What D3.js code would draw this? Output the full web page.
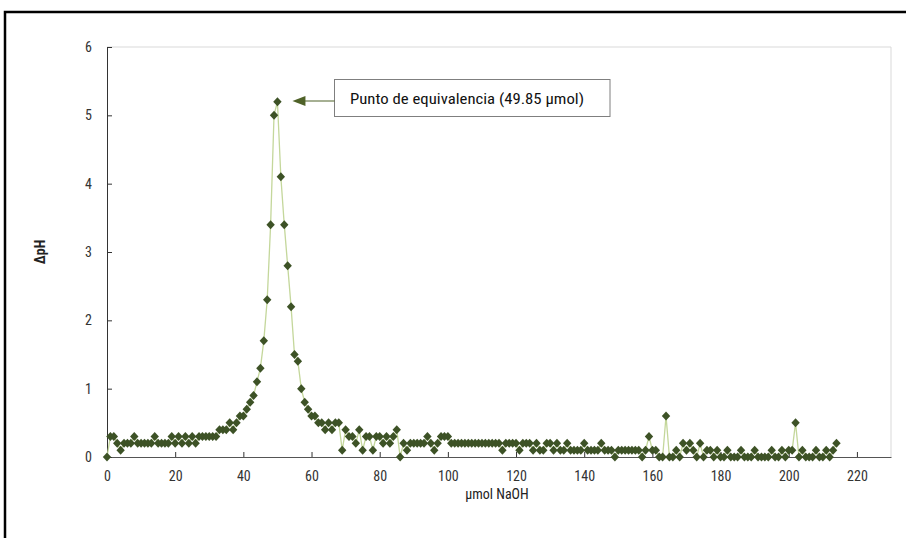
<!DOCTYPE html>
<html>
<head>
<meta charset="utf-8">
<script src="https://cdn.jsdelivr.net/npm/d3@7/dist/d3.min.js"></script>
<style>
  html, body { margin: 0; padding: 0; background: #fff; }
  svg { display: block; }
</style>
</head>
<body>
<svg id="chart" width="906" height="538"></svg>
<script>
// µmol NaOH added (x)
const umol = [
  0,1,2,3,4,5,6,7,8,9,10,11,12,13,14,15,16,17,18,19,
  20,21,22,23,24,25,26,27,28,29,30,31,32,33,34,35,36,37,38,39,
  40,41,42,43,44,45,46,47,48,49,50,51,52,53,54,55,56,57,58,59,
  60,61,62,63,64,65,66,67,68,69,70,71,72,73,74,75,76,77,78,79,
  80,81,82,83,84,85,86,87,88,89,90,91,92,93,94,95,96,97,98,99,
  100,101,102,103,104,105,106,107,108,109,110,111,112,113,114,115,116,117,118,119,
  120,121,122,123,124,125,126,127,128,129,130,131,132,133,134,135,136,137,138,139,
  140,141,142,143,144,145,146,147,148,149,150,151,152,153,154,155,156,157,158,159,
  160,161,162,163,164,165,166,167,168,169,170,171,172,173,174,175,176,177,178,179,
  180,181,182,183,184,185,186,187,188,189,190,191,192,193,194,195,196,197,198,199,
  200,201,202,203,204,205,206,207,208,209,210,211,212,213,214
];
// ΔpH values (y)
const deltaPH = [
  0.0,0.3,0.3,0.2,0.1,0.2,0.2,0.2,0.3,0.2,0.2,0.2,0.2,0.2,0.3,0.2,0.2,0.2,0.2,0.3,
  0.2,0.3,0.2,0.3,0.2,0.3,0.2,0.3,0.3,0.3,0.3,0.3,0.3,0.4,0.4,0.4,0.5,0.4,0.5,0.6,
  0.6,0.7,0.8,0.9,1.1,1.3,1.7,2.3,3.4,5.0,5.2,4.1,3.4,2.8,2.2,1.5,1.4,1.0,0.8,0.7,
  0.6,0.6,0.5,0.5,0.4,0.5,0.4,0.5,0.5,0.1,0.4,0.3,0.3,0.2,0.4,0.1,0.3,0.3,0.1,0.3,
  0.3,0.2,0.3,0.2,0.3,0.4,0.0,0.2,0.1,0.2,0.2,0.2,0.2,0.2,0.3,0.2,0.1,0.2,0.3,0.3,
  0.3,0.2,0.2,0.2,0.2,0.2,0.2,0.2,0.2,0.2,0.2,0.2,0.2,0.2,0.2,0.2,0.1,0.2,0.2,0.2,
  0.2,0.1,0.2,0.2,0.2,0.1,0.2,0.1,0.1,0.2,0.2,0.1,0.2,0.1,0.1,0.2,0.1,0.1,0.1,0.1,
  0.2,0.1,0.1,0.1,0.1,0.2,0.1,0.1,0.1,0.0,0.1,0.1,0.1,0.1,0.1,0.1,0.1,0.0,0.1,0.3,
  0.1,0.1,0.0,0.0,0.6,0.0,0.0,0.1,0.0,0.2,0.1,0.2,0.1,0.0,0.2,0.0,0.1,0.1,0.0,0.1,
  0.0,0.0,0.1,0.0,0.0,0.0,0.1,0.0,0.0,0.0,0.1,0.0,0.0,0.0,0.0,0.1,0.0,0.0,0.1,0.0,
  0.1,0.1,0.5,0.0,0.1,0.0,0.0,0.0,0.1,0.0,0.0,0.1,0.0,0.1,0.2
];
const xTicks = [0,20,40,60,80,100,120,140,160,180,200,220];
const yTicks = [0,1,2,3,4,5,6];
const xTitle = "µmol NaOH";
const yTitle = "ΔpH";
const annotationText = "Punto de equivalencia (49.85 µmol)";
const peakX = 50, peakY = 5.2;

const data = umol.map((v, i) => ({x: v, y: deltaPH[i]}));

const svg = d3.select("#chart");
const pLeft = 107, pRight = 891, pTop = 47, pBottom = 457;

const x = d3.scaleLinear().domain([0, 230]).range([pLeft, pRight]);
const y = d3.scaleLinear().domain([0, 6]).range([pBottom, pTop]);

// outer frame
svg.append("rect").attr("x", 5).attr("y", 12).attr("width", 1000).attr("height", 1000)
  .attr("fill", "none").attr("stroke", "#000").attr("stroke-width", 2.5);

// plot area border (top/right)
svg.append("path")
  .attr("d", `M${pLeft},${pTop}H${pRight}V${pBottom}`)
  .attr("fill", "none").attr("stroke", "#d9d9d9").attr("stroke-width", 1);

const font = "'Liberation Sans Narrow', 'Roboto Condensed', 'Liberation Sans', sans-serif";

// x axis
const xAxis = svg.append("g").attr("transform", `translate(0,${pBottom})`)
  .call(d3.axisBottom(x).tickValues(xTicks).tickSize(0).tickPadding(14).tickFormat(d3.format("d")));
xAxis.select(".domain").attr("stroke", "#555");
xAxis.selectAll(".tick line").remove();
xAxis.selectAll(".tick").append("line").attr("y1", 0).attr("y2", -5).attr("stroke", "#333");
xAxis.selectAll("text").attr("font-family", font).attr("font-size", 14).attr("fill", "#333");

// y axis
const yAxis = svg.append("g").attr("transform", `translate(${pLeft},0)`)
  .call(d3.axisLeft(y).tickValues(yTicks).tickSize(0).tickPadding(15).tickFormat(d3.format("d")));
yAxis.select(".domain").attr("stroke", "#333");
yAxis.selectAll(".tick line").remove();
yAxis.selectAll(".tick").append("line").attr("x1", 0).attr("x2", 5).attr("stroke", "#333");
yAxis.selectAll("text").attr("font-family", font).attr("font-size", 14).attr("fill", "#333");

// axis titles
svg.append("text").attr("x", 497).attr("y", 499).attr("text-anchor", "middle")
  .attr("font-family", font).attr("font-size", 14).attr("fill", "#222").text(xTitle);
svg.append("text").attr("transform", "translate(45,252) rotate(-90)").attr("text-anchor", "middle")
  .attr("font-family", font).attr("font-size", 14).attr("font-weight", "bold").attr("fill", "#222").text(yTitle);

// connecting line
svg.append("path").datum(data)
  .attr("d", d3.line().x(d => x(d.x)).y(d => y(d.y)))
  .attr("fill", "none").attr("stroke", "#c4d79b").attr("stroke-width", 1.3);

// diamond markers
svg.append("g").selectAll("path").data(data).join("path")
  .attr("transform", d => `translate(${x(d.x)},${y(d.y)})`)
  .attr("d", "M0,-4.5L4.2,0L0,4.5L-4.2,0Z")
  .attr("fill", "#3d5226");

// annotation
const bx = 334.5, by = 79.5, bw = 275.5, bh = 37;
svg.append("rect").attr("x", bx).attr("y", by).attr("width", bw).attr("height", bh)
  .attr("fill", "#fff").attr("stroke", "#7f7f7f").attr("stroke-width", 1);
svg.append("text").attr("x", 350).attr("y", 104).attr("font-family", font)
  .attr("font-size", 15).attr("fill", "#111")
  .attr("textLength", 234).attr("lengthAdjust", "spacingAndGlyphs")
  .text(annotationText);
const ay = by + bh / 2 + 3;
const tipX = x(peakX) + 15;
svg.append("line").attr("x1", bx).attr("x2", tipX + 10).attr("y1", ay).attr("y2", ay)
  .attr("stroke", "#4f6228").attr("stroke-width", 1.2);
svg.append("path")
  .attr("d", `M${tipX},${ay}L${tipX + 13},${ay - 5}L${tipX + 13},${ay + 5}Z`)
  .attr("fill", "#4f6228");
</script>
</body>
</html>
